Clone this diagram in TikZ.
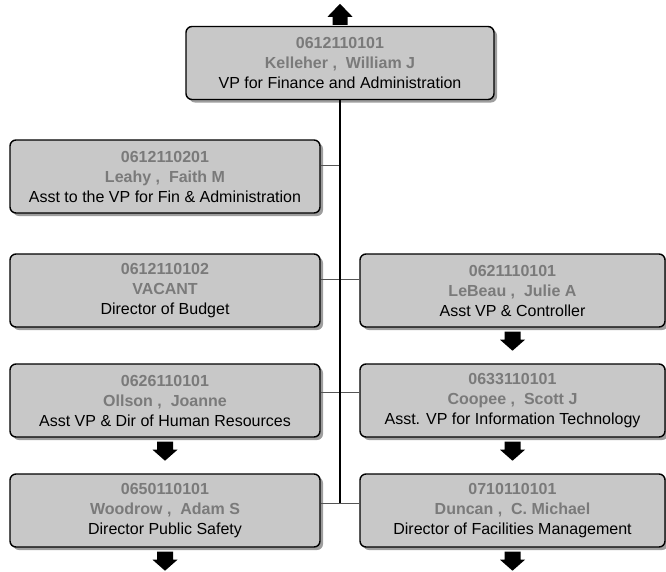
\documentclass[tikz,border=0pt]{standalone}
\usepackage{fontspec}
\setmainfont{Liberation Sans}
\usetikzlibrary{shadows,calc}

\definecolor{boxfill}{HTML}{C8C8C8}
\definecolor{idgray}{HTML}{7A7A7A}
\definecolor{linkgray}{HTML}{555555}

\tikzset{
  posbox/.style={draw=black, line width=1.4pt, fill=boxfill, rounded corners=6pt,
    minimum height=73pt, align=center, inner sep=0pt,
    font=\fontsize{16}{20}\selectfont,
    drop shadow={shadow xshift=3pt, shadow yshift=-3pt, fill=black!38, opacity=1}},
  leftbox/.style={posbox, minimum width=310pt},
  rightbox/.style={posbox, minimum width=305pt},
  trunk/.style={draw=black, line width=1.2pt},
  branch/.style={draw=linkgray, line width=0.9pt},
  downarr/.pic={\fill[black] (-8,0) -- (8,0) -- (8,8) -- (12.5,8) -- (0,19) -- (-12.5,8) -- (-8,8) -- cycle;},
  uparr/.pic={\fill[black] (-7.5,0) -- (7.5,0) -- (7.5,-8) -- (12.5,-8) -- (0,-21) -- (-12.5,-8) -- (-7.5,-8) -- cycle;}
}

\newcommand{\posn}[3]{\textcolor{idgray}{\bfseries #1}\\\textcolor{idgray}{\bfseries #2}\\#3}

\begin{document}
\begin{tikzpicture}[x=1pt,y=-1pt]
\useasboundingbox (0,0) rectangle (666,571);

% positions
\node[posbox, minimum width=308pt] (vp) at (340,63)
  {\posn{0612110101}{Kelleher~,~~William J}{VP for Finance and Administration}};
\node[leftbox] (leahy) at (165,176.5)
  {\posn{0612110201}{Leahy~,~~Faith M}{Asst to the VP for Fin \& Administration}};
\node[leftbox] (budget) at (165,290.5)
  {\posn{0612110102}{VACANT}{Director of Budget}};
\node[rightbox] (lebeau) at (512.5,290.5)
  {\posn{0621110101}{LeBeau~,~~Julie A}{Asst VP \& Controller}};
\node[leftbox] (ollson) at (165,400.5)
  {\posn{0626110101}{Ollson~,~~Joanne}{Asst VP \& Dir of Human Resources}};
\node[rightbox] (coopee) at (512.5,400.5)
  {\posn{0633110101}{Coopee~,~~Scott J}{Asst. VP for Information Technology}};
\node[leftbox] (woodrow) at (165,510.5)
  {\posn{0650110101}{Woodrow~,~~Adam S}{Director Public Safety}};
\node[rightbox] (duncan) at (512.5,510.5)
  {\posn{0710110101}{Duncan~,~~C. Michael}{Director of Facilities Management}};

% junction points on the trunk
\coordinate (j1) at (340,165);
\coordinate (j2) at (340,279);
\coordinate (j3) at (340,392);
\coordinate (j4) at (340,503);

% branches
\draw[branch] (leahy.east |- j1) -- (j1);
\draw[branch] (budget.east |- j2) -- (lebeau.west |- j2);
\draw[branch] (ollson.east |- j3) -- (coopee.west |- j3);
\draw[branch] (woodrow.east |- j4) -- (duncan.west |- j4);

% trunk
\draw[trunk] (vp.south) -- (j4);

% arrows
\pic at ($(vp.north)+(0,-1)$) {uparr};
\pic at ($(lebeau.south)+(0,4)$) {downarr};
\pic at ($(ollson.south)+(0,4)$) {downarr};
\pic at ($(coopee.south)+(0,4)$) {downarr};
\pic at ($(woodrow.south)+(0,4)$) {downarr};
\pic at ($(duncan.south)+(0,4)$) {downarr};
\end{tikzpicture}
\end{document}
